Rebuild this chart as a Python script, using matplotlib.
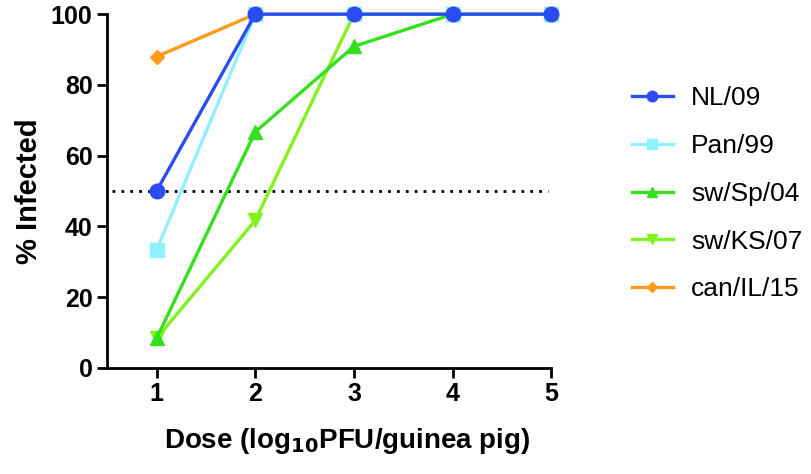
import numpy as np
import matplotlib.pyplot as plt

plt.rcParams['font.family'] = ['Liberation Sans', 'DejaVu Sans']

dose = [1, 2, 3, 4, 5]
nl09 = [50, 100, 100, 100, 100]
pan99 = [33.3, 100, 100, 100, 100]
sw_sp04 = [8.3, 66.7, 90.9, 100, 100]
sw_ks07 = [8.3, 41.7, 100, 100, 100]
can_il15 = [88, 100, 100, 100, 100]

series = [
    ('NL/09', nl09, '#2b4cf2', 'o'),
    ('Pan/99', pan99, '#8ff0ff', 's'),
    ('sw/Sp/04', sw_sp04, '#33e01c', '^'),
    ('sw/KS/07', sw_ks07, '#80f21c', 'v'),
    ('can/IL/15', can_il15, '#ff9a1c', 'D'),
]

fig = plt.figure(figsize=(8.12, 4.74), dpi=100)
ax = fig.add_axes([0.132, 0.224, 0.547, 0.746])

handles = []
n = len(series)
for i, (name, vals, col, mk) in enumerate(series):
    ms = 7 if mk == 'D' else 10.5
    ax.plot(dose, vals, color=col, marker=mk, markersize=ms, lw=2.4,
            zorder=10 + n - i, clip_on=False)
    # smaller marker for the legend entry
    h, = ax.plot([], [], color=col, marker=mk, markersize=ms * 0.72, lw=2.4,
                 label=name)
    handles.append(h)

ax.plot([0.55, 4.97], [50, 50], color='black', lw=2, ls=(0, (1, 2.2)), zorder=5)

ax.set_xlim(0.5, 5)
ax.set_ylim(0, 100)
ax.set_xticks(dose)
ax.set_yticks([0, 20, 40, 60, 80, 100])
for s in ['top', 'right']:
    ax.spines[s].set_visible(False)
for s in ['left', 'bottom']:
    ax.spines[s].set_linewidth(2)
ax.tick_params(width=2, length=7, labelsize=18, direction='out')
for lab in ax.get_xticklabels() + ax.get_yticklabels():
    lab.set_fontweight('bold')

ax.set_xlabel('Dose (log$_{\\mathbf{10}}$PFU/guinea pig)', fontsize=20,
              fontweight='bold', labelpad=14)
ax.xaxis.label.set_x(0.54)
ax.set_ylabel('% Infected', fontsize=21, fontweight='bold', labelpad=6)

fig.legend(handles=handles, loc='center left', bbox_to_anchor=(0.749, 0.591),
           frameon=False, fontsize=19, handlelength=1.55, labelspacing=0.9,
           handletextpad=0.7)

fig.savefig('out.png', dpi=100)
